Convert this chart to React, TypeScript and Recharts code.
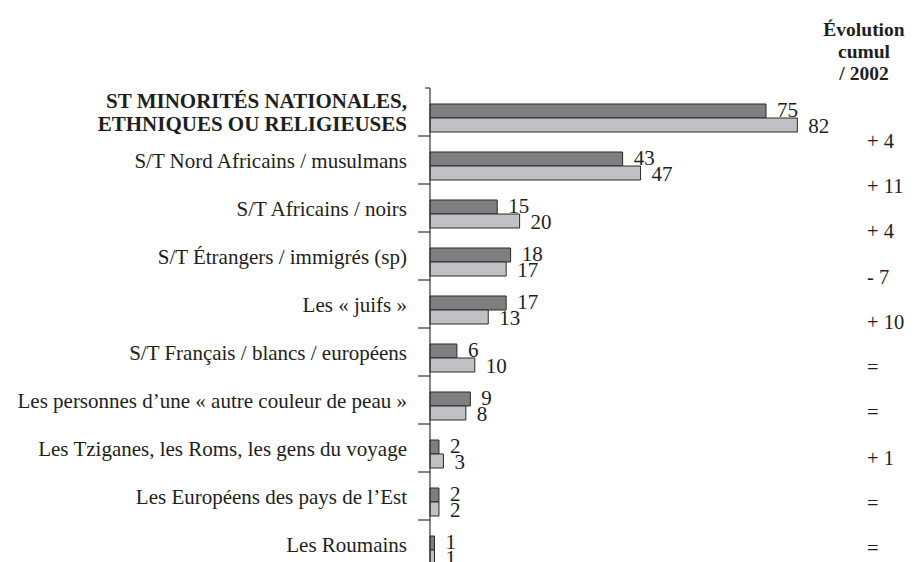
import React from 'react';
import { BarChart, Bar, XAxis, YAxis, LabelList } from 'recharts';

const categories = [
  'ST MINORITÉS NATIONALES,|ETHNIQUES OU RELIGIEUSES',
  'S/T Nord Africains / musulmans',
  'S/T Africains / noirs',
  'S/T Étrangers / immigrés (sp)',
  'Les « juifs »',
  'S/T Français / blancs / européens',
  'Les personnes d’une « autre couleur de peau »',
  'Les Tziganes, les Roms, les gens du voyage',
  'Les Européens des pays de l’Est',
  'Les Roumains',
];
const seriesDark = [75, 43, 15, 18, 17, 6, 9, 2, 2, 1];
const seriesLight = [82, 47, 20, 17, 13, 10, 8, 3, 2, 1];
const evolution = ['+ 4', '+ 11', '+ 4', '- 7', '+ 10', '=', '=', '+ 1', '=', '='];
const headerLines = ['Évolution', 'cumul', '/ 2002'];

const data = categories.map((name, i) => ({
  name,
  dark: seriesDark[i],
  light: seriesLight[i],
  evo: evolution[i],
}));

const FONT = '"Liberation Serif", "Times New Roman", serif';
const TEXT = '#1e1e1e';

const LeftTick = (props: any) => {
  const { x, y, payload, index } = props;
  const axisX = x + 23;
  const top = y - 30;
  const label: string = payload.value;
  const lines = label.split('|');
  return (
    <g>
      <line x1={axisX - (index === 0 ? 5 : 12)} x2={axisX} y1={top} y2={top} stroke="#333" strokeWidth={1.2} />
      <line x1={axisX} x2={axisX} y1={top} y2={y + 18} stroke="#333" strokeWidth={1.2} />
      {lines.length > 1 ? (
        <text x={x} y={y} textAnchor="end" fontFamily={FONT} fontSize={21} fontWeight="bold" fill={TEXT}>
          <tspan x={x} y={y - 10}>{lines[0]}</tspan>
          <tspan x={x} y={y + 12.5}>{lines[1]}</tspan>
        </text>
      ) : (
        <text x={x} y={y + 2} textAnchor="end" fontFamily={FONT} fontSize={21} fill={TEXT}>
          {label}
        </text>
      )}
    </g>
  );
};

const RightTick = (props: any) => {
  const { x, y, index } = props;
  return (
    <text x={x - 11} y={y + 7} textAnchor="start" fontFamily={FONT} fontSize={20.5} fill={TEXT}>
      {evolution[index]}
    </text>
  );
};

const makeLabel = (dy: number) => (props: any) => {
  const { x, y, width, height, value } = props;
  return (
    <text x={x + width + 11} y={y + height / 2 + dy} textAnchor="start" fontFamily={FONT} fontSize={21} fill={TEXT}>
      {value}
    </text>
  );
};

export default function App() {
  return (
    <div style={{ position: 'relative', width: 908, height: 580 }}>
      <style>{`html, body { overflow: hidden; }`}</style>
      <BarChart
        width={908}
        height={580}
        data={data}
        layout="vertical"
        margin={{ top: 86, right: 8, bottom: 14, left: 0 }}
        barGap={0}
        barSize={14}
      >
        <XAxis type="number" domain={[0, 100]} hide />
        <YAxis
          yAxisId="left"
          type="category"
          dataKey="name"
          width={422}
          interval={0}
          axisLine={false}
          tickLine={false}
          tickSize={12}
          tickMargin={11}
          tick={<LeftTick />}
        />
        <YAxis
          yAxisId="right"
          orientation="right"
          type="category"
          dataKey="name"
          width={30}
          interval={0}
          axisLine={false}
          tickLine={false}
          tickSize={0}
          tickMargin={0}
          padding={{ top: 24, bottom: 3 }}
          tick={<RightTick />}
        />
        <Bar yAxisId="left" dataKey="dark" fill="#7f7f7f" stroke="#2a2a2a" strokeWidth={1} isAnimationActive={false}>
          <LabelList dataKey="dark" content={makeLabel(5.5)} />
        </Bar>
        <Bar yAxisId="left" dataKey="light" fill="#c0c1c5" stroke="#2a2a2a" strokeWidth={1} isAnimationActive={false}>
          <LabelList dataKey="light" content={makeLabel(8)} />
        </Bar>
      </BarChart>
      <div
        style={{
          position: 'absolute',
          left: 806,
          top: 11,
          width: 100,
          textAlign: 'center',
          fontFamily: FONT,
          fontWeight: 'bold',
          fontSize: 19.5,
          lineHeight: '22px',
          color: TEXT,
        }}
      >
        {headerLines.map((l) => (
          <div key={l}>{l}</div>
        ))}
      </div>
    </div>
  );
}
